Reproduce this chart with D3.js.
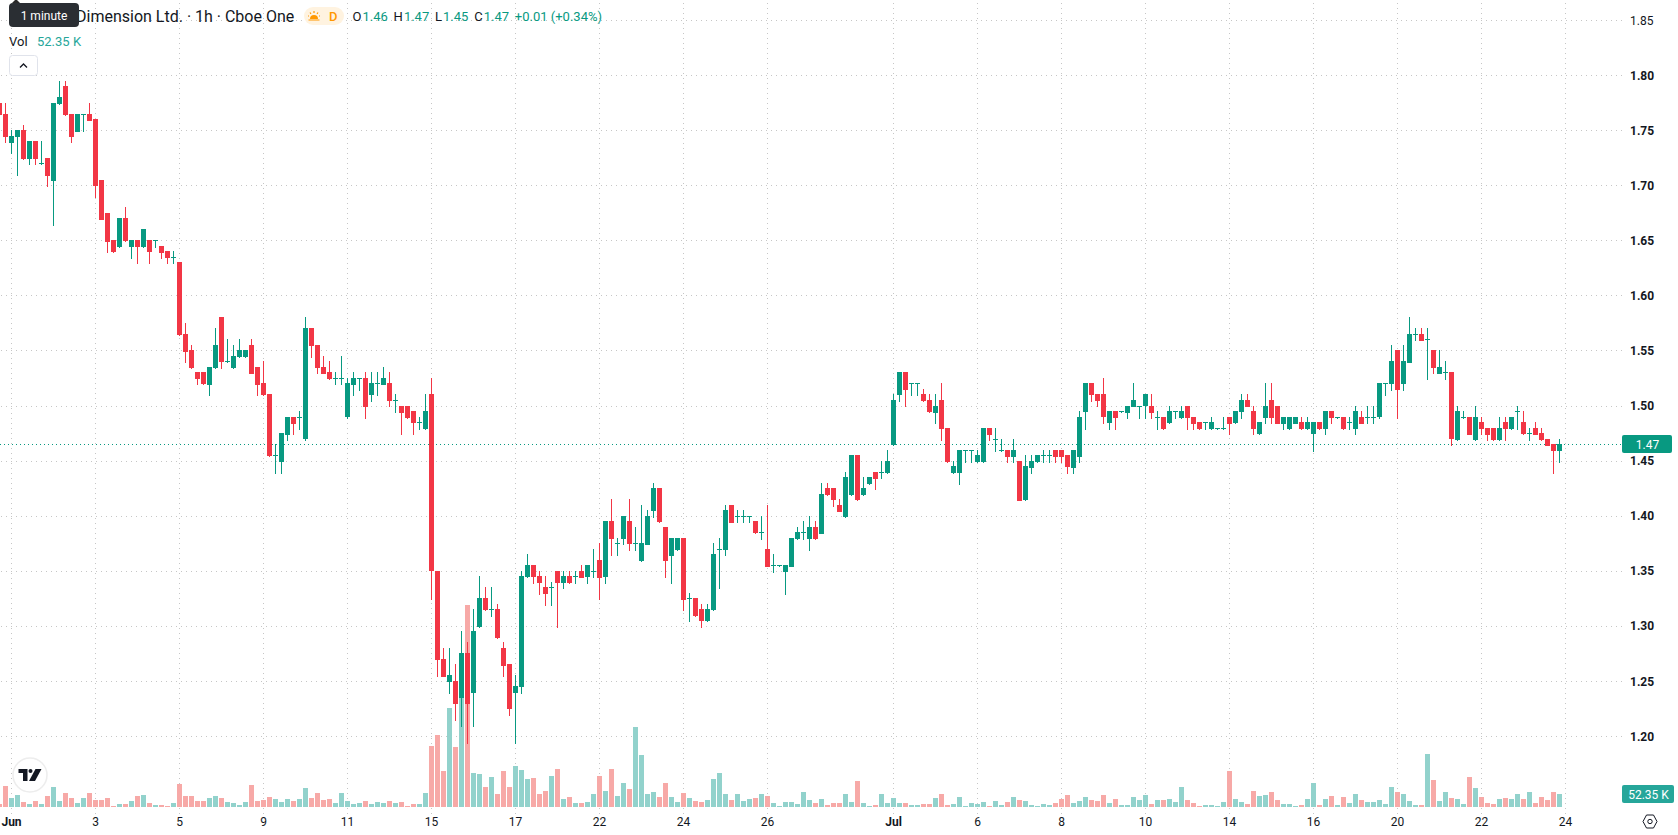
<!DOCTYPE html>
<html>
<head>
<meta charset="utf-8">
<title>Hourly candlestick chart</title>
<script src="https://cdn.jsdelivr.net/npm/d3@7"></script>
<style>
  html, body { margin: 0; padding: 0; background: #fff; }
  svg { display: block; }
  text { font-family: Roboto, "Noto Sans", sans-serif; }
</style>
</head>
<body>
<svg id="chart" width="1678" height="835"></svg>
<script>
// Hourly session bars, oldest first.
const opens = [
1.775,1.765,1.74,1.745,1.75,1.725,1.74,1.72,1.725,1.705,
1.775,1.79,1.765,1.75,1.765,1.765,1.76,1.705,1.675,1.65,
1.645,1.67,1.645,1.65,1.645,1.65,1.65,1.645,1.64,1.635,
1.63,1.565,1.55,1.53,1.53,1.52,1.535,1.58,1.54,1.535,
1.545,1.545,1.555,1.535,1.52,1.51,1.455,1.45,1.475,1.49,
1.49,1.47,1.57,1.555,1.535,1.53,1.525,1.525,1.49,1.52,
1.525,1.525,1.51,1.52,1.52,1.52,1.505,1.50,1.50,1.495,
1.485,1.48,1.51,1.35,1.27,1.25,1.25,1.235,1.275,1.24,
1.30,1.325,1.315,1.315,1.28,1.265,1.24,1.245,1.345,1.355,
1.345,1.335,1.335,1.35,1.34,1.345,1.345,1.35,1.345,1.35,
1.36,1.345,1.395,1.375,1.38,1.395,1.375,1.36,1.375,1.405,
1.425,1.39,1.365,1.37,1.38,1.325,1.325,1.315,1.305,1.315,
1.37,1.37,1.41,1.40,1.40,1.40,1.395,1.385,1.37,1.355,
1.355,1.35,1.355,1.38,1.385,1.38,1.39,1.385,1.425,1.425,
1.41,1.40,1.42,1.455,1.42,1.43,1.44,1.44,1.44,1.465,
1.51,1.53,1.52,1.52,1.51,1.505,1.495,1.505,1.48,1.44,
1.44,1.46,1.46,1.45,1.45,1.48,1.47,1.46,1.46,1.455,
1.45,1.415,1.445,1.45,1.455,1.455,1.46,1.46,1.455,1.445,
1.455,1.495,1.52,1.51,1.51,1.485,1.495,1.495,1.495,1.50,
1.50,1.50,1.50,1.49,1.49,1.485,1.495,1.49,1.50,1.49,
1.485,1.485,1.48,1.48,1.48,1.49,1.485,1.495,1.505,1.495,
1.475,1.49,1.505,1.50,1.485,1.48,1.485,1.485,1.48,1.475,
1.485,1.48,1.495,1.49,1.49,1.485,1.48,1.49,1.49,1.49,
1.49,1.52,1.52,1.55,1.52,1.54,1.565,1.565,1.56,1.55,
1.53,1.53,1.53,1.47,1.49,1.49,1.47,1.485,1.48,1.48,
1.47,1.485,1.48,1.495,1.485,1.475,1.48,1.475,1.47,1.465,
1.46];
const highs = [
1.775,1.775,1.75,1.75,1.755,1.74,1.74,1.74,1.725,1.775,
1.795,1.795,1.765,1.765,1.765,1.775,1.76,1.705,1.675,1.65,
1.67,1.68,1.65,1.65,1.66,1.65,1.65,1.645,1.64,1.64,
1.63,1.575,1.555,1.53,1.53,1.535,1.57,1.58,1.56,1.555,
1.56,1.55,1.56,1.535,1.54,1.51,1.465,1.475,1.49,1.49,
1.495,1.58,1.57,1.555,1.545,1.54,1.53,1.545,1.525,1.53,
1.525,1.53,1.53,1.53,1.535,1.53,1.51,1.50,1.50,1.495,
1.49,1.51,1.525,1.35,1.28,1.28,1.265,1.295,1.285,1.315,
1.345,1.335,1.335,1.32,1.285,1.265,1.255,1.35,1.365,1.355,
1.35,1.345,1.34,1.35,1.35,1.35,1.35,1.355,1.355,1.37,
1.375,1.395,1.415,1.38,1.40,1.415,1.39,1.41,1.405,1.43,
1.425,1.39,1.38,1.38,1.38,1.33,1.325,1.32,1.32,1.375,
1.38,1.41,1.41,1.405,1.405,1.40,1.395,1.40,1.41,1.365,
1.355,1.355,1.38,1.39,1.395,1.40,1.395,1.43,1.43,1.425,
1.415,1.44,1.455,1.455,1.435,1.435,1.44,1.45,1.46,1.51,
1.53,1.53,1.52,1.52,1.515,1.51,1.51,1.52,1.48,1.45,
1.46,1.46,1.46,1.46,1.48,1.48,1.48,1.47,1.46,1.47,
1.45,1.455,1.455,1.455,1.46,1.46,1.46,1.46,1.455,1.46,
1.495,1.52,1.52,1.51,1.525,1.495,1.495,1.495,1.50,1.52,
1.50,1.51,1.51,1.495,1.49,1.50,1.495,1.50,1.50,1.49,
1.485,1.485,1.49,1.48,1.49,1.49,1.495,1.51,1.51,1.50,
1.485,1.52,1.52,1.50,1.49,1.49,1.49,1.49,1.49,1.485,
1.485,1.495,1.495,1.49,1.49,1.49,1.50,1.495,1.50,1.50,
1.52,1.52,1.555,1.55,1.555,1.58,1.57,1.57,1.57,1.55,
1.55,1.54,1.53,1.50,1.495,1.49,1.50,1.49,1.48,1.48,
1.49,1.49,1.49,1.50,1.495,1.48,1.485,1.48,1.47,1.465,
1.47];
const lows = [
1.765,1.74,1.73,1.71,1.725,1.72,1.72,1.72,1.70,1.665,
1.775,1.765,1.74,1.75,1.75,1.76,1.69,1.67,1.64,1.64,
1.645,1.65,1.635,1.63,1.645,1.63,1.645,1.635,1.63,1.63,
1.565,1.54,1.535,1.52,1.52,1.51,1.535,1.535,1.54,1.535,
1.545,1.545,1.53,1.51,1.51,1.455,1.44,1.44,1.47,1.475,
1.48,1.47,1.545,1.53,1.53,1.525,1.52,1.52,1.49,1.51,
1.515,1.49,1.505,1.51,1.52,1.50,1.495,1.475,1.49,1.475,
1.48,1.48,1.325,1.255,1.255,1.24,1.215,1.21,1.195,1.21,
1.30,1.315,1.31,1.29,1.255,1.22,1.195,1.24,1.345,1.34,
1.33,1.32,1.32,1.30,1.335,1.34,1.34,1.345,1.34,1.345,
1.325,1.34,1.365,1.365,1.375,1.37,1.37,1.36,1.375,1.40,
1.395,1.345,1.34,1.37,1.315,1.305,1.31,1.30,1.305,1.315,
1.335,1.365,1.395,1.395,1.395,1.395,1.385,1.38,1.355,1.35,
1.355,1.33,1.355,1.38,1.38,1.37,1.38,1.385,1.42,1.41,
1.405,1.40,1.42,1.415,1.42,1.43,1.425,1.435,1.44,1.465,
1.505,1.50,1.51,1.51,1.505,1.495,1.485,1.47,1.45,1.44,
1.43,1.45,1.45,1.45,1.45,1.47,1.46,1.46,1.45,1.45,
1.415,1.415,1.44,1.45,1.45,1.45,1.45,1.45,1.44,1.44,
1.45,1.48,1.505,1.50,1.485,1.48,1.48,1.495,1.49,1.50,
1.49,1.49,1.49,1.48,1.48,1.485,1.49,1.49,1.48,1.48,
1.48,1.48,1.48,1.48,1.48,1.475,1.485,1.49,1.50,1.475,
1.475,1.485,1.485,1.485,1.48,1.48,1.485,1.48,1.48,1.46,
1.48,1.475,1.485,1.49,1.48,1.48,1.475,1.485,1.485,1.485,
1.49,1.51,1.515,1.49,1.515,1.54,1.56,1.56,1.525,1.53,
1.53,1.525,1.465,1.47,1.49,1.475,1.47,1.475,1.47,1.47,
1.47,1.47,1.48,1.48,1.475,1.47,1.475,1.47,1.465,1.44,
1.45];
const closes = [
1.765,1.745,1.745,1.75,1.725,1.74,1.725,1.72,1.71,1.775,
1.78,1.765,1.745,1.765,1.765,1.76,1.70,1.67,1.65,1.64,
1.67,1.65,1.65,1.645,1.66,1.64,1.65,1.64,1.635,1.635,
1.565,1.55,1.535,1.525,1.52,1.535,1.555,1.54,1.54,1.545,
1.55,1.55,1.53,1.52,1.51,1.455,1.455,1.475,1.49,1.485,
1.49,1.57,1.555,1.535,1.53,1.525,1.525,1.525,1.52,1.525,
1.525,1.50,1.52,1.52,1.525,1.505,1.505,1.495,1.49,1.485,
1.485,1.495,1.35,1.27,1.255,1.255,1.23,1.275,1.23,1.295,
1.325,1.315,1.315,1.29,1.265,1.225,1.245,1.345,1.355,1.345,
1.34,1.33,1.335,1.34,1.345,1.34,1.345,1.345,1.355,1.35,
1.345,1.395,1.38,1.375,1.40,1.375,1.375,1.375,1.40,1.425,
1.395,1.36,1.38,1.38,1.325,1.325,1.31,1.305,1.315,1.365,
1.37,1.405,1.395,1.40,1.40,1.40,1.385,1.385,1.355,1.355,
1.355,1.355,1.38,1.385,1.385,1.39,1.38,1.42,1.42,1.415,
1.405,1.435,1.455,1.415,1.425,1.435,1.435,1.44,1.45,1.505,
1.53,1.515,1.52,1.52,1.505,1.495,1.50,1.48,1.45,1.445,
1.46,1.46,1.46,1.455,1.48,1.475,1.47,1.46,1.455,1.46,
1.415,1.445,1.45,1.455,1.455,1.455,1.455,1.455,1.445,1.46,
1.49,1.52,1.51,1.505,1.49,1.495,1.49,1.495,1.50,1.505,
1.50,1.51,1.495,1.49,1.48,1.495,1.495,1.495,1.49,1.485,
1.48,1.485,1.485,1.48,1.48,1.485,1.495,1.505,1.50,1.48,
1.485,1.50,1.49,1.485,1.49,1.49,1.49,1.48,1.485,1.485,
1.48,1.495,1.49,1.49,1.48,1.485,1.495,1.485,1.49,1.49,
1.52,1.52,1.54,1.515,1.54,1.565,1.565,1.56,1.56,1.535,
1.535,1.53,1.47,1.495,1.49,1.475,1.49,1.48,1.475,1.47,
1.48,1.48,1.49,1.495,1.475,1.475,1.475,1.47,1.465,1.46,
1.465];
// Volume per bar, in thousands of shares.
const volumes = [
12,85,36,48,20,12,24,12,44,81,
24,56,36,16,36,56,28,28,36,4,
12,12,24,44,48,16,8,8,4,16,
93,44,44,24,24,36,44,36,20,16,
8,20,89,24,28,40,32,20,32,24,
32,77,36,56,28,32,16,56,24,12,
16,24,12,20,16,24,16,20,4,12,
12,56,246,290,145,399,242,592,814,137,
133,81,121,52,145,81,165,149,113,117,
52,64,125,153,32,40,16,16,20,52,
125,64,153,44,97,73,322,210,52,60,
40,97,40,20,56,36,24,20,28,113,
137,52,28,52,24,32,36,52,44,16,
4,20,20,12,60,28,16,32,8,16,
16,52,20,105,16,4,8,52,16,36,
16,16,8,8,12,12,36,52,8,12,
40,4,16,12,20,4,24,8,20,40,
28,24,8,4,12,8,16,32,48,16,
24,40,28,24,48,16,32,8,8,40,
28,48,12,28,28,32,20,81,28,16,
4,8,8,4,20,145,32,20,12,64,
44,48,60,28,12,12,4,8,32,97,
8,32,44,8,40,16,52,28,20,20,
28,12,81,60,52,24,8,8,214,109,
24,60,36,32,12,121,77,40,16,12,
32,36,32,52,32,60,16,40,28,60,
52.35];

const priceTicks = [1.85,1.80,1.75,1.70,1.65,1.60,1.55,1.50,1.45,1.40,1.35,1.30,1.25,1.20];
const timeTickBars = [2,16,30,44,58,72,86,100,114,128,149,163,177,191,205,219,233,247,261];
const timeTickLabels = ["Jun","3","5","9","11","15","17","22","24","26","Jul","6","8","10","14","16","20","22","24"];
const lastPrice = 1.465;
const lastPriceLabel = "1.47";
const lastVolume = 52.35;
const lastVolumeLabel = "52.35 K";
const headerQuote = [["O","1.46"],["H","1.47"],["L","1.45"],["C","1.47"]];

const bars = opens.map((o, i) => ({ i, o, h: highs[i], l: lows[i], c: closes[i], v: volumes[i], up: closes[i] >= o }));

const UP = "#089981", DOWN = "#F23645", UP_VOL = "#92D2CC", DOWN_VOL = "#F7A9A7", INK = "#131722", GRID = "#c6c6c6";
const paneRight = 1622, volumeBase = 807;

const x = d3.scaleLinear().domain([0, 260]).range([-0.5, 1559.5]);
const y = d3.scaleLinear().domain([1.80, 1.20]).range([75.5, 736.5]);
const vol = d3.scaleLinear().domain([0, lastVolume]).range([volumeBase, 794]);

const svg = d3.select("#chart");

// Price axis: its tick lines double as the horizontal grid.
const yAxis = svg.append("g").attr("transform", `translate(${paneRight},0)`)
  .call(d3.axisRight(y).tickValues(priceTicks).tickFormat(d3.format(".2f"))
    .tickSize(-paneRight).tickPadding(8).offset(0));
yAxis.select(".domain").remove();
yAxis.selectAll("line").attr("stroke", GRID).attr("stroke-dasharray", "1 4").attr("shape-rendering", "crispEdges");
yAxis.selectAll("text").attr("fill", INK).attr("font-size", 12).attr("dy", "0.34em")
  .attr("font-weight", d => d === 1.85 ? 400 : 700);

// Time axis: its tick lines double as the vertical grid.
const xAxis = svg.append("g").attr("transform", `translate(0,${volumeBase + 7})`)
  .call(d3.axisBottom(x).tickValues(timeTickBars).tickFormat((d, i) => timeTickLabels[i])
    .tickSize(0).tickPadding(3).offset(0));
xAxis.select(".domain").remove();
xAxis.selectAll("text").attr("fill", INK).attr("font-size", 12)
  .attr("font-weight", (d, i) => /[A-Za-z]/.test(timeTickLabels[i]) ? 700 : 400);
xAxis.selectAll("line").attr("y1", 0).attr("y2", -(volumeBase + 7)).attr("stroke", GRID)
  .attr("stroke-dasharray", "1 4").attr("shape-rendering", "crispEdges");

// Volume histogram sits behind the candles.
svg.append("g").selectAll("rect").data(bars).join("rect")
  .attr("x", d => x(d.i) - 2.5).attr("width", 5)
  .attr("y", d => Math.round(vol(d.v))).attr("height", d => volumeBase - Math.round(vol(d.v)))
  .attr("fill", d => d.up ? UP_VOL : DOWN_VOL);

// Last price line.
svg.append("line").attr("x1", 0).attr("x2", paneRight)
  .attr("y1", Math.floor(y(lastPrice)) + 0.5).attr("y2", Math.floor(y(lastPrice)) + 0.5)
  .attr("stroke", UP).attr("stroke-width", 1).attr("stroke-dasharray", "1 3");

// Candles: 1px wick, 5px body, at least 1px tall.
const candles = svg.append("g").attr("shape-rendering", "crispEdges");
candles.selectAll("rect.wick").data(bars).join("rect").attr("class", "wick")
  .attr("x", d => x(d.i) - 0.5).attr("width", 1)
  .attr("y", d => Math.floor(y(d.h))).attr("height", d => Math.ceil(y(d.l)) - Math.floor(y(d.h)) + 1)
  .attr("fill", d => d.up ? UP : DOWN);
candles.selectAll("rect.body").data(bars).join("rect").attr("class", "body")
  .attr("x", d => x(d.i) - 2.5).attr("width", 5)
  .attr("y", d => Math.floor(y(Math.max(d.o, d.c))))
  .attr("height", d => Math.round(y(Math.min(d.o, d.c)) - y(Math.max(d.o, d.c))) + 1)
  .attr("fill", d => d.up ? UP : DOWN);

// Price scale tags.
function tag(cy, label, fill, x0, w) {
  svg.append("rect").attr("x", x0).attr("y", cy - 9).attr("width", w).attr("height", 18).attr("rx", 2).attr("fill", fill);
  svg.append("text").attr("x", x0 + w / 2 + 0.5).attr("y", cy).attr("dy", "0.38em").attr("text-anchor", "middle")
    .attr("fill", "#fff").attr("font-size", 12).text(label);
}
tag(444, lastPriceLabel, UP, 1622, 50);
tag(794, lastVolumeLabel, "#26A69A", 1622, 52);

// Legend rows.
svg.append("text").attr("x", 76).attr("y", 16).attr("dy", "0.36em").attr("font-size", 16).attr("fill", INK)
  .text("Dimension Ltd. · 1h · Cboe One");

svg.append("rect").attr("x", 304).attr("y", 7).attr("width", 40).attr("height", 18).attr("rx", 9).attr("fill", "#FFF3E0");
const sun = svg.append("g").attr("transform", "translate(314,16)").attr("fill", "#FF9800").attr("stroke", "#FF9800");
sun.append("path").attr("d", "M-4 3 A4 4 0 0 1 4 3 Z").attr("stroke", "none");
sun.append("path").attr("d", "M-5.5 4H5.5M0-5V-3M-4-3.5L-3-2.2M4-3.5L3-2.2M-6 0H-5M6 0H5").attr("stroke-width", 1.2);
svg.append("text").attr("x", 329).attr("y", 16).attr("dy", "0.36em").attr("font-size", 13).attr("font-weight", 500)
  .attr("fill", "#FF9800").text("D");

let qx = 352.5;
headerQuote.forEach(([k, v]) => {
  const t = svg.append("text").attr("x", qx).attr("y", 16).attr("dy", "0.36em").attr("font-size", 13);
  t.append("tspan").attr("fill", INK).text(k);
  t.append("tspan").attr("fill", UP).attr("dx", 1).text(v);
  qx += t.node().getComputedTextLength() + 6.8;
});
svg.append("text").attr("x", qx).attr("y", 16).attr("dy", "0.36em").attr("font-size", 13).attr("fill", UP).text("+0.01 (+0.34%)");

svg.append("text").attr("x", 9).attr("y", 41).attr("dy", "0.36em").attr("font-size", 13).attr("fill", INK).text("Vol");
svg.append("text").attr("x", 37).attr("y", 41).attr("dy", "0.36em").attr("font-size", 13).attr("fill", "#26A69A").text("52.35 K");

// Collapse button.
svg.append("rect").attr("x", 9.5).attr("y", 55.5).attr("width", 28).attr("height", 20).attr("rx", 3)
  .attr("fill", "#fff").attr("stroke", "#E0E3EB");
svg.append("path").attr("d", "M20 67.5L23.5 64L27 67.5").attr("fill", "none").attr("stroke", INK).attr("stroke-width", 1.3);

// Tooltip over the symbol name.
svg.append("path").attr("d", "M12 3L16 -1L20 3Z").attr("fill", "#2A2A2A");
svg.append("rect").attr("x", 9).attr("y", 3).attr("width", 70).attr("height", 24).attr("rx", 4).attr("fill", "#2A2E33");
svg.append("text").attr("x", 44).attr("y", 15.5).attr("dy", "0.36em").attr("text-anchor", "middle")
  .attr("font-size", 12).attr("fill", "#fff").text("1 minute");

// Brand badge.
svg.append("circle").attr("cx", 30).attr("cy", 775).attr("r", 17).attr("fill", "#fff").attr("stroke", "#EDEDED").attr("stroke-width", 1.5);
const mark = svg.append("g").attr("transform", "translate(18.5,769)").attr("fill", "#131722");
mark.append("path").attr("d", "M0 0H9V12H4.5V4H0Z");
mark.append("circle").attr("cx", 12).attr("cy", 2).attr("r", 2);
mark.append("path").attr("d", "M17 0H23L16.5 12H10.5Z");

// Scale settings button.
svg.append("path").attr("d", "M1643 821.5L1646.5 815H1653.5L1657 821.5L1653.5 828H1646.5Z")
  .attr("fill", "none").attr("stroke", INK).attr("stroke-width", 1);
svg.append("circle").attr("cx", 1650).attr("cy", 821.5).attr("r", 2.2).attr("fill", "none").attr("stroke", INK);
</script>
</body>
</html>
